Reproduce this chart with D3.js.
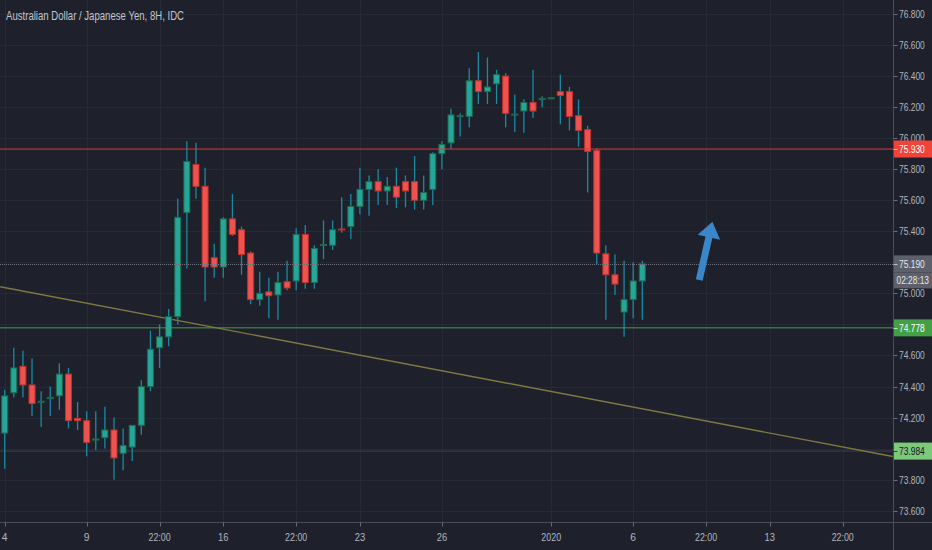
<!DOCTYPE html>
<html>
<head>
<meta charset="utf-8">
<script src="https://cdn.jsdelivr.net/npm/d3@7"></script>
<style>
  html, body { margin: 0; padding: 0; background: #1e212b; }
  svg { display: block; }
  text { font-family: "Liberation Sans", Arial, sans-serif; }
</style>
</head>
<body>
<script>
// AUD/JPY 8-hour candles, oldest first (index 0 = first bar of Dec 4)
const opens = [
  74.10, 74.36, 74.53, 74.41, 74.30, 74.325, 74.34, 74.48, 74.195, 74.18,
  74.055, 74.07, 74.12, 73.97, 74.01, 74.15, 74.40, 74.65, 74.72, 74.85,
  75.52, 75.83, 75.69, 75.23, 75.17, 75.48, 75.41, 75.26, 74.96, 75.01,
  74.99, 75.075, 75.08, 75.38, 75.07, 75.31, 75.31, 75.415, 75.43, 75.56,
  75.67, 75.72, 75.66, 75.69, 75.72, 75.72, 75.60, 75.67, 75.90, 75.97,
  76.14, 76.14, 76.37, 76.30, 76.35, 76.40, 76.15, 76.175, 76.23, 76.25,
  76.258, 76.30, 76.30, 76.145, 76.055, 75.92, 75.255, 75.12, 74.88, 74.96,
  75.08
];
const highs = [
  74.38, 74.65, 74.63, 74.58, 74.37, 74.40, 74.55, 74.52, 74.30, 74.24,
  74.24, 74.27, 74.20, 74.13, 74.15, 74.44, 74.76, 74.80, 74.90, 75.61,
  75.98, 75.97, 75.81, 75.32, 75.49, 75.64, 75.43, 75.27, 75.14, 75.10,
  75.14, 75.21, 75.42, 75.44, 75.31, 75.47, 75.47, 75.62, 75.64, 75.81,
  75.76, 75.80, 75.75, 75.81, 75.76, 75.885, 75.76, 75.91, 75.98, 76.19,
  76.16, 76.45, 76.555, 76.52, 76.44, 76.42, 76.28, 76.25, 76.44, 76.27,
  76.26, 76.41, 76.33, 76.25, 76.08, 75.935, 75.31, 75.25, 75.21, 75.20,
  75.21
];
const lows = [
  73.87, 74.33, 74.33, 74.21, 74.14, 74.21, 74.25, 74.13, 74.12, 73.95,
  73.99, 74.00, 73.80, 73.86, 73.92, 74.09, 74.37, 74.52, 74.66, 74.80,
  75.16, 75.61, 74.95, 75.10, 75.10, 75.37, 75.12, 74.93, 74.92, 74.84,
  74.83, 75.02, 75.02, 75.03, 75.03, 75.22, 75.28, 75.39, 75.35, 75.51,
  75.50, 75.57, 75.57, 75.55, 75.555, 75.54, 75.54, 75.57, 75.80, 75.93,
  76.01, 76.07, 76.22, 76.22, 76.22, 76.07, 76.04, 76.035, 76.13, 76.20,
  76.258, 76.09, 76.05, 75.945, 75.65, 75.19, 74.83, 74.99, 74.72, 74.84,
  74.83
];
const closes = [
  74.34, 74.52, 74.41, 74.29, 74.305, 74.33, 74.48, 74.18, 74.18, 74.04,
  74.062, 74.12, 73.94, 74.02, 74.15, 74.40, 74.64, 74.72, 74.85, 75.49,
  75.85, 75.69, 75.17, 75.17, 75.48, 75.38, 75.25, 74.96, 75.00, 74.985,
  75.07, 75.035, 75.38, 75.07, 75.29, 75.315, 75.41, 75.41, 75.56, 75.67,
  75.72, 75.66, 75.69, 75.62, 75.66, 75.60, 75.65, 75.90, 75.96, 76.15,
  76.145, 76.37, 76.30, 76.33, 76.41, 76.16, 76.155, 76.23, 76.175, 76.255,
  76.26, 76.275, 76.14, 76.05, 75.915, 75.26, 75.12, 75.06, 74.96, 75.08,
  75.19
];

// Time axis: bar index of each label and its text
const xTickIdx = [0, 9, 17, 24, 32, 39, 48, 60, 69, 77, 84, 92];
const xTickLabels = ["4", "9", "22:00", "16", "22:00", "23", "26", "2020", "6", "22:00", "13", "22:00"];

// Price axis ticks
const priceTicks = [73.6, 73.8, 74.0, 74.2, 74.4, 74.6, 74.8, 75.0, 75.2, 75.4, 75.6, 75.8, 76.0, 76.2, 76.4, 76.6, 76.8];

// Drawn levels
const resistanceLevel = 75.930;
const supportLevel = 74.778;
const lowerLevel = 73.984;
const lastPrice = 75.190;
const countdown = "02:28:13";

// Falling trendline anchors (bar index, price)
const trendIdx = [-0.5, 97.5];
const trendPrice = [75.043, 73.949];

// Upward arrow annotation (bar index, price): tail then tip
const arrowIdx = [76.25, 77.7];
const arrowPrice = [75.086, 75.462];

const title = "Australian Dollar / Japanese Yen, 8H, IDC";

const W = 932, H = 550;
const plotRight = 893.5, plotBottom = 522.5;

const x = d3.scaleLinear().domain([0, 70]).range([4.7, 642.3]);
const y = d3.scaleLinear().domain([73.6, 76.8]).range([510.7, 14]);

// narrow axis lettering: width per glyph
const glyphW = ch => (ch === "." || ch === ":") ? 2.3 : 4.7;
const narrowLen = s => Array.from(s).reduce((a, ch) => a + glyphW(ch), 0);

const svg = d3.select("body").append("svg").attr("width", W).attr("height", H);

svg.append("rect").attr("width", W).attr("height", H).attr("fill", "#1e212b");

svg.append("clipPath").attr("id", "plot-clip")
  .append("rect").attr("x", 0).attr("y", 0).attr("width", plotRight).attr("height", plotBottom);

const plot = svg.append("g").attr("clip-path", "url(#plot-clip)");

// grid
plot.append("g").selectAll("line").data(priceTicks).join("line")
  .attr("x1", 0).attr("x2", plotRight)
  .attr("y1", d => Math.round(y(d)) + 0.5).attr("y2", d => Math.round(y(d)) + 0.5)
  .attr("stroke", "#262a35").attr("stroke-width", 1);
plot.append("g").selectAll("line").data(xTickIdx).join("line")
  .attr("x1", d => Math.round(x(d)) + 0.5).attr("x2", d => Math.round(x(d)) + 0.5)
  .attr("y1", 0).attr("y2", plotBottom)
  .attr("stroke", "#262a35").attr("stroke-width", 1);

// lower horizontal level
plot.append("line")
  .attr("x1", 0).attr("x2", plotRight)
  .attr("y1", y(lowerLevel)).attr("y2", y(lowerLevel))
  .attr("stroke", "#3c404b").attr("stroke-width", 1);

// trendline
plot.append("line")
  .attr("x1", x(trendIdx[0])).attr("y1", y(trendPrice[0]))
  .attr("x2", x(trendIdx[1])).attr("y2", y(trendPrice[1]))
  .attr("stroke", "#7f7840").attr("stroke-width", 1.4);

// candles
const bars = d3.range(opens.length).map(i => ({
  i, o: opens[i], h: highs[i], l: lows[i], c: closes[i], up: closes[i] >= opens[i]
}));

const candle = plot.append("g").selectAll("g").data(bars).join("g");
candle.append("line")
  .attr("x1", d => x(d.i)).attr("x2", d => x(d.i))
  .attr("y1", d => y(d.h)).attr("y2", d => y(d.l))
  .attr("stroke", "#1a8aa3").attr("stroke-width", 1.3);
candle.append("rect")
  .attr("x", d => x(d.i) - 3)
  .attr("width", 6)
  .attr("y", d => Math.min(y(d.o), y(d.c)))
  .attr("height", d => Math.max(1, Math.abs(y(d.o) - y(d.c))))
  .attr("fill", d => d.up ? "#26a69a" : "#ef5350")
  .attr("stroke", d => d.up ? "#1f6a4a" : "#c0302c")
  .attr("stroke-width", 1);

// horizontal levels
plot.append("line")
  .attr("x1", 0).attr("x2", plotRight)
  .attr("y1", y(resistanceLevel)).attr("y2", y(resistanceLevel))
  .attr("stroke", "#d83a35").attr("stroke-width", 1);
plot.append("line")
  .attr("x1", 0).attr("x2", plotRight)
  .attr("y1", y(supportLevel)).attr("y2", y(supportLevel))
  .attr("stroke", "#43a047").attr("stroke-width", 1);
plot.append("line")
  .attr("x1", 0).attr("x2", plotRight)
  .attr("y1", Math.round(y(lastPrice)) + 0.5).attr("y2", Math.round(y(lastPrice)) + 0.5)
  .attr("stroke", "#6f727c").attr("stroke-width", 1).attr("stroke-dasharray", "1,1");

// arrow
{
  const x0 = x(arrowIdx[0]), y0 = y(arrowPrice[0]);
  const x1 = x(arrowIdx[1]), y1 = y(arrowPrice[1]);
  const dx = x1 - x0, dy = y1 - y0, len = Math.hypot(dx, dy);
  const ux = dx / len, uy = dy / len, nx = -uy, ny = ux;
  const headLen = 16, headHalf = 11.5, shaftHalf = 3.5;
  const bx = x1 - ux * headLen, by = y1 - uy * headLen;
  const pts = [
    [x0 + nx * shaftHalf, y0 + ny * shaftHalf],
    [bx + nx * shaftHalf, by + ny * shaftHalf],
    [bx + nx * headHalf, by + ny * headHalf],
    [x1, y1],
    [bx - nx * headHalf, by - ny * headHalf],
    [bx - nx * shaftHalf, by - ny * shaftHalf],
    [x0 - nx * shaftHalf, y0 - ny * shaftHalf]
  ];
  plot.append("path").attr("d", d3.line()(pts) + "Z").attr("fill", "#3b86c8");
}

// axis separators
svg.append("line").attr("x1", 0).attr("x2", W).attr("y1", plotBottom).attr("y2", plotBottom)
  .attr("stroke", "#4a4e59").attr("stroke-width", 1);
svg.append("line").attr("x1", plotRight).attr("x2", plotRight).attr("y1", 0).attr("y2", H)
  .attr("stroke", "#4a4e59").attr("stroke-width", 1);

// time axis
const xAxis = svg.append("g");
xAxis.selectAll("line").data(xTickIdx).join("line")
  .attr("x1", d => Math.round(x(d)) + 0.5).attr("x2", d => Math.round(x(d)) + 0.5)
  .attr("y1", plotBottom).attr("y2", plotBottom + 4)
  .attr("stroke", "#6a6d78");
xAxis.selectAll("text").data(xTickIdx).join("text")
  .attr("x", d => x(d)).attr("y", 541)
  .attr("text-anchor", "middle")
  .attr("fill", "#b2b5be").attr("font-size", 11)
  .attr("textLength", (d, k) => narrowLen(xTickLabels[k]) + 1)
  .attr("lengthAdjust", "spacingAndGlyphs")
  .text((d, k) => xTickLabels[k]);

// price tags shown on the axis; plain tick labels hidden where a tag covers them
const tagLevels = [resistanceLevel, supportLevel, lowerLevel, lastPrice];
const tickShown = d => !tagLevels.some(t => Math.abs(y(t) - y(d)) < 8) &&
  Math.abs(y(lastPrice) + 16.5 - y(d)) >= 8;

const yAxis = svg.append("g");
yAxis.selectAll("line").data(priceTicks).join("line")
  .attr("x1", plotRight).attr("x2", plotRight + 4)
  .attr("y1", d => Math.round(y(d)) + 0.5).attr("y2", d => Math.round(y(d)) + 0.5)
  .attr("stroke", "#6a6d78");
yAxis.selectAll("text").data(priceTicks.filter(tickShown)).join("text")
  .attr("x", 899).attr("y", d => y(d) + 4)
  .attr("fill", "#b2b5be").attr("font-size", 11)
  .attr("textLength", d => narrowLen(d3.format(".3f")(d)))
  .attr("lengthAdjust", "spacingAndGlyphs")
  .text(d => d3.format(".3f")(d));

function priceTag(yc, label, bg, fg) {
  const g = svg.append("g");
  g.append("rect").attr("x", plotRight + 0.5).attr("y", yc - 8.5).attr("width", W - plotRight).attr("height", 17)
    .attr("fill", bg);
  g.append("line").attr("x1", plotRight).attr("x2", plotRight + 4)
    .attr("y1", Math.round(yc) + 0.5).attr("y2", Math.round(yc) + 0.5).attr("stroke", fg).attr("opacity", 0.7);
  g.append("text").attr("x", 899).attr("y", yc + 4)
    .attr("fill", fg).attr("font-size", 11)
    .attr("textLength", narrowLen(label)).attr("lengthAdjust", "spacingAndGlyphs")
    .text(label);
}
priceTag(y(resistanceLevel), d3.format(".3f")(resistanceLevel), "#f0443a", "#ffffff");
priceTag(y(supportLevel), d3.format(".3f")(supportLevel), "#43a047", "#ffffff");
priceTag(y(lowerLevel), d3.format(".3f")(lowerLevel), "#7cc97c", "#131722");
priceTag(y(lastPrice), d3.format(".3f")(lastPrice), "#5d606b", "#e6e7ea");
// countdown box below the last price (lettering squeezed horizontally)
svg.append("rect").attr("x", plotRight + 0.5).attr("y", y(lastPrice) + 8.5).attr("width", W - plotRight).attr("height", 16)
  .attr("fill", "#5d606b");
svg.append("text")
  .attr("transform", `translate(896.5,${y(lastPrice) + 20.5}) scale(0.76,1)`)
  .attr("fill", "#e6e7ea").attr("font-size", 11)
  .text(countdown);

// title
svg.append("text").attr("x", 6).attr("y", 20)
  .attr("fill", "#c3c6ce").attr("font-size", 12.5)
  .attr("textLength", 178).attr("lengthAdjust", "spacingAndGlyphs")
  .text(title);
</script>
</body>
</html>
